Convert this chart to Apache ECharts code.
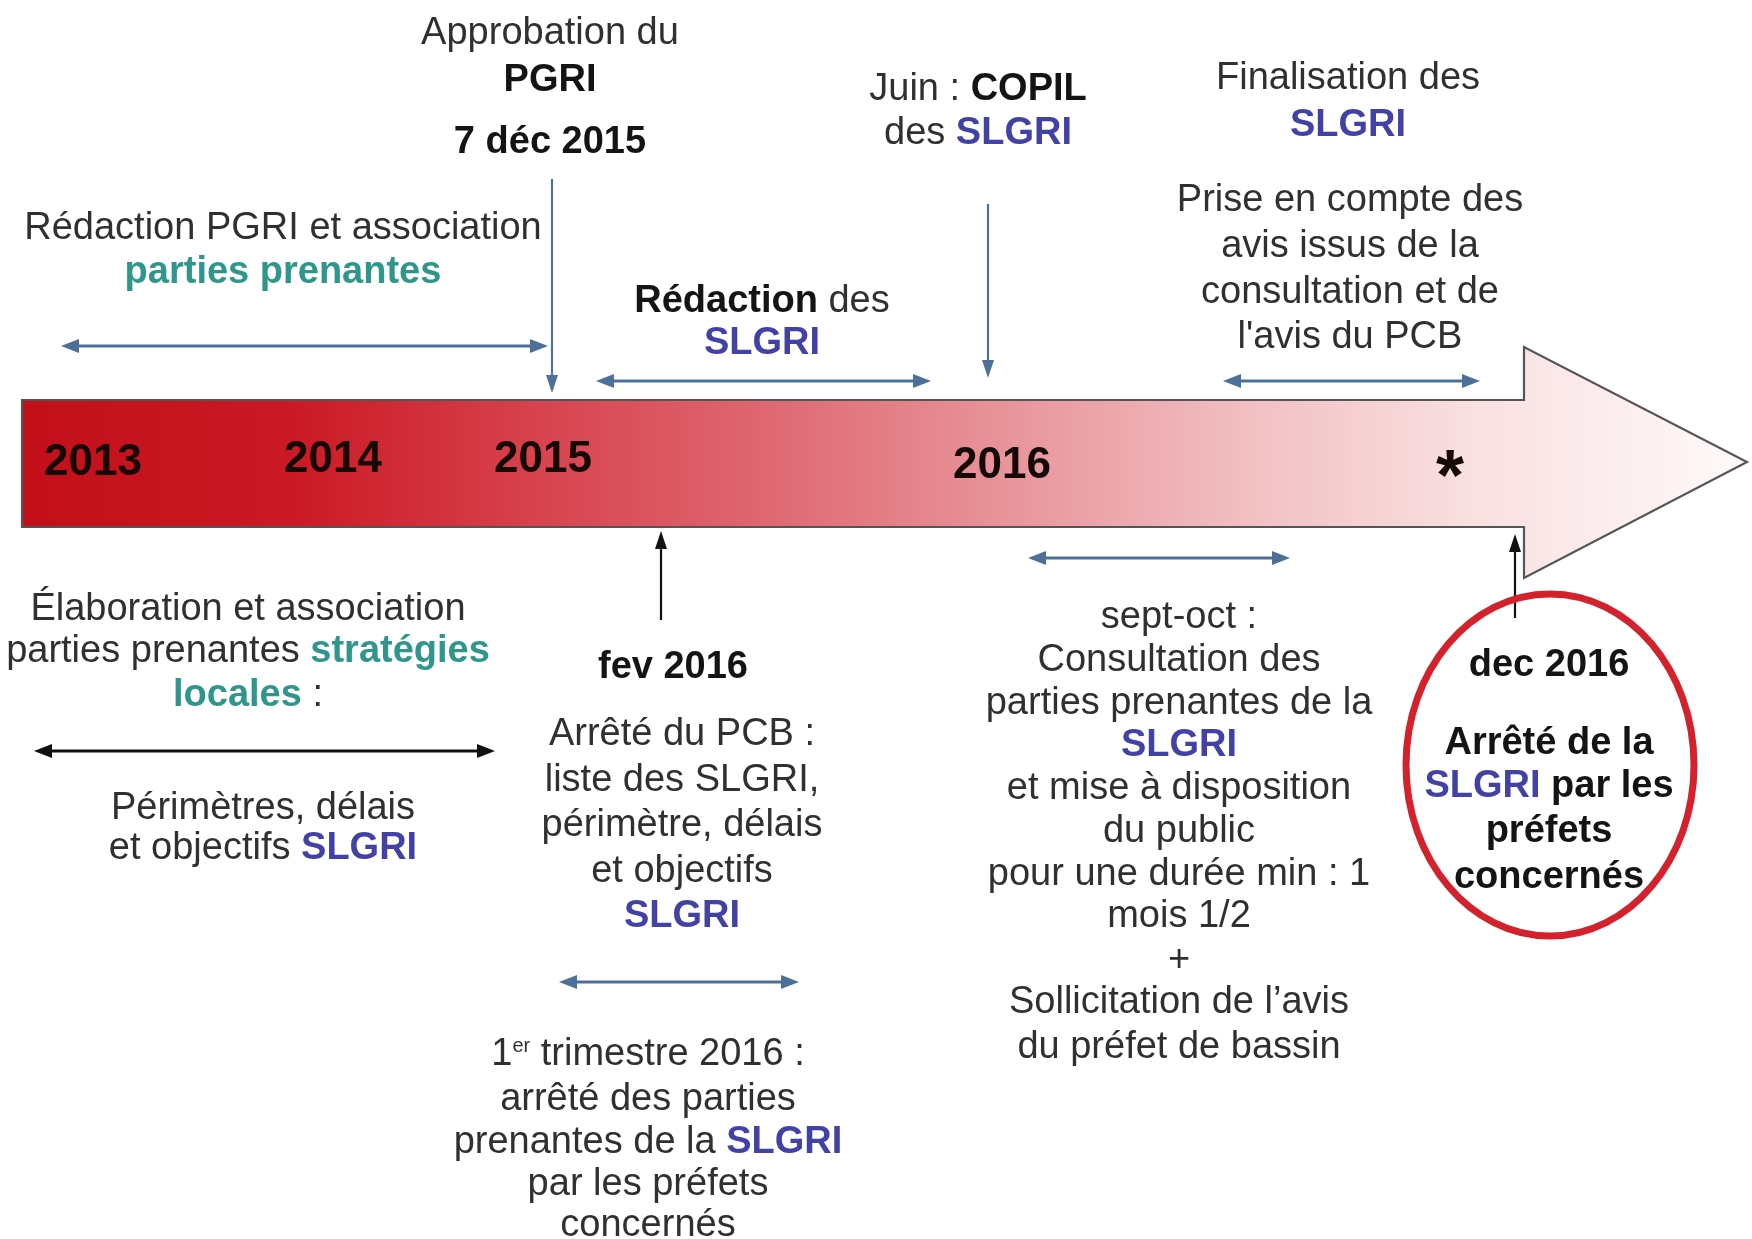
<!DOCTYPE html>
<html><head><meta charset="utf-8">
<script src="https://cdn.jsdelivr.net/npm/echarts@6/dist/echarts.min.js"></script>
<style>html,body{margin:0;padding:0;background:#fff}#c{width:1752px;height:1239px}</style>
</head><body><div id="c"></div><script>
// ---------- content ----------
const yearLabels = ['2013', '2014', '2015', '2016', '*'];
const approvalLines = ['Approbation du', '{k|PGRI}', '{k|7 déc 2015}'];
const redacPgriLines = ['Rédaction PGRI et association', '{t|parties prenantes}'];
const redacSlgriLines = ['{k|Rédaction} des', '{s|SLGRI}'];
const copilLines = ['Juin : {k|COPIL}', 'des {s|SLGRI}'];
const finalLines = ['Finalisation des', '{s|SLGRI}'];
const priseLines = ['Prise en compte des', 'avis issus de la', 'consultation et de', "l'avis du PCB"];
const elabLines = ['Élaboration et association', 'parties prenantes {t|stratégies}', '{t|locales} :'];
const perimLines = ['Périmètres, délais', 'et objectifs {s|SLGRI}'];
const fevLines = ['{k|fev 2016}'];
const arreteLines = ['Arrêté du PCB :', 'liste des SLGRI,', 'périmètre, délais', 'et objectifs', '{s|SLGRI}'];
const trimLines = ['1{sup|er} trimestre 2016 :', 'arrêté des parties', 'prenantes de la {s|SLGRI}', 'par les préfets', 'concernés'];
const consultLines = ['sept-oct :', 'Consultation des', 'parties prenantes de la', '{s|SLGRI}', 'et mise à disposition', 'du public', 'pour une durée min : 1', 'mois 1/2', '+', "Sollicitation de l’avis", 'du préfet de bassin'];
const decLines = ['{k|dec 2016}', '{k|Arrêté de la}', '{s|SLGRI} {k|par les}', '{k|préfets}', '{k|concernés}'];

// ---------- layout ----------
const FONT = 'Liberation Sans, Arial, sans-serif';
const C_TEXT = '#303030', C_BOLD = '#141414', C_TEAL = '#2f968b', C_BLUE = '#4141a6', C_ARROW = '#4d7098';
const DY = 3;
const rich = {
  k: { fontWeight: 'bold', fill: C_BOLD, fontSize: 38, fontFamily: FONT },
  t: { fontWeight: 'bold', fill: C_TEAL, fontSize: 38, fontFamily: FONT },
  s: { fontWeight: 'bold', fill: C_BLUE, fontSize: 38, fontFamily: FONT },
  sup: { fontSize: 20, fill: C_TEXT, fontFamily: FONT, verticalAlign: 'top', padding: [0, 0, 14, 0] }
};
const els = [];
function block(lines, x, ys, opts) {
  opts = opts || {};
  lines.forEach((ln, i) => {
    els.push({
      type: 'text', x: x, y: ys[i] + DY, z: 10,
      style: {
        text: ln, align: 'center', verticalAlign: 'middle',
        fontSize: opts.size || 38, fontFamily: FONT,
        fontWeight: opts.bold ? 'bold' : 'normal',
        fill: opts.color || C_TEXT, rich: rich
      }
    });
  });
}
function head(x, y, dir, color, len, half) {
  len = len || 18; half = half || 7;
  let pts;
  if (dir === 'l') pts = [[x, y], [x + len, y - half], [x + len, y + half]];
  if (dir === 'r') pts = [[x, y], [x - len, y - half], [x - len, y + half]];
  if (dir === 'u') pts = [[x, y], [x - half, y + len], [x + half, y + len]];
  if (dir === 'd') pts = [[x, y], [x - half, y - len], [x + half, y - len]];
  els.push({ type: 'polygon', z: 5, shape: { points: pts }, style: { fill: color } });
}
function line(x1, y1, x2, y2, color, w) {
  els.push({ type: 'line', z: 5, shape: { x1, y1, x2, y2 }, style: { stroke: color, lineWidth: w || 3 } });
}
function hArrow(x1, x2, y, color) {
  line(x1 + 10, y, x2 - 10, y, color, 3);
  head(x1, y, 'l', color); head(x2, y, 'r', color);
}
function vArrow(x, y1, y2, dir, color) {
  if (dir === 'd') { line(x, y1, x, y2 - 10, color, 2.2); head(x, y2, 'd', color, 18, 6); }
  else { line(x, y1 + 10, x, y2, color, 2.2); head(x, y1, 'u', color, 18, 6); }
}

// big timeline arrow
els.push({
  type: 'polygon', z: 1,
  shape: { points: [[22, 400], [1524, 400], [1524, 347], [1747, 462], [1524, 578], [1524, 527], [22, 527]] },
  style: {
    fill: new echarts.graphic.LinearGradient(0, 0, 1, 0, [
      { offset: 0, color: '#c20f1a' },
      { offset: 0.16, color: '#cb1a25' },
      { offset: 0.30, color: '#d7434e' },
      { offset: 0.42, color: '#de646e' },
      { offset: 0.57, color: '#e8949b' },
      { offset: 0.72, color: '#f2c2c5' },
      { offset: 0.84, color: '#f9e0e1' },
      { offset: 1, color: '#fffafa' }
    ]),
    stroke: '#555555', lineWidth: 2.2
  }
});
const yearX = [93, 333, 543, 1002, 1450];
const yearY = [463, 460, 460, 466, 480];
yearLabels.forEach((t, i) => {
  els.push({
    type: 'text', x: yearX[i], y: yearY[i], z: 10,
    style: {
      text: t, align: 'center', verticalAlign: 'middle', fontFamily: FONT,
      fontWeight: 'bold', fontSize: t === '*' ? 72 : 44, fill: '#170808'
    }
  });
});

// top
block(approvalLines, 550, [31, 78, 140]);
vArrow(552, 179, 393, 'd', C_ARROW);
block(redacPgriLines, 283, [226, 270]);
hArrow(61, 548, 346, C_ARROW);
block(redacSlgriLines, 762, [299, 341]);
hArrow(596, 931, 381, C_ARROW);
block(copilLines, 978, [87, 131]);
vArrow(988, 204, 378, 'd', C_ARROW);
block(finalLines, 1348, [76, 123]);
block(priseLines, 1350, [198, 244, 290, 335]);
hArrow(1223, 1480, 381, C_ARROW);

// bottom
vArrow(661, 531, 620, 'u', '#111');
block(elabLines, 248, [607, 649, 693]);
hArrow(34, 495, 751, '#111');
block(perimLines, 263, [806, 846]);
block(fevLines, 673, [665]);
block(arreteLines, 682, [732, 778, 823, 869, 914]);
hArrow(559, 799, 982, C_ARROW);
block(trimLines, 648, [1052, 1097, 1140, 1182, 1223]);
hArrow(1028, 1290, 558, C_ARROW);
block(consultLines, 1179, [615, 658, 701, 743, 786, 829, 872, 914, 958, 1000, 1045]);
vArrow(1515, 534, 618, 'u', '#111');
els.push({ type: 'ellipse', z: 8, shape: { cx: 1550, cy: 765, rx: 144, ry: 171 }, style: { fill: 'none', stroke: '#d3222c', lineWidth: 7 } });
block(decLines, 1549, [663, 741, 784, 829, 875], { bold: true, color: C_BOLD });

const chart = echarts.init(document.getElementById('c'), null, { renderer: 'canvas' });
chart.setOption({ backgroundColor: '#ffffff', animation: false, graphic: els });
</script></body></html>
